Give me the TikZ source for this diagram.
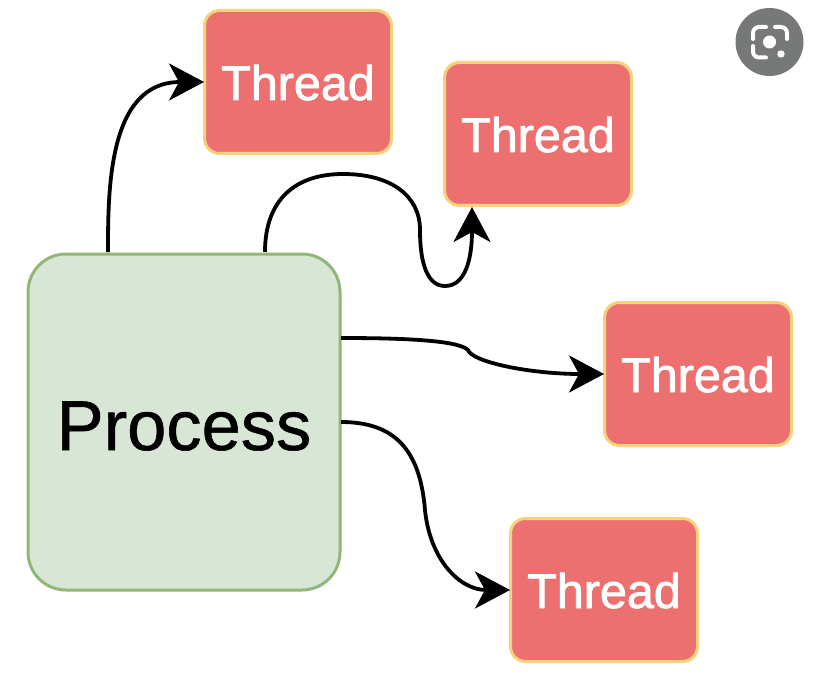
\documentclass[tikz,border=0pt]{standalone}
\usepackage{fontspec}
\setmainfont{Liberation Sans}
\newfontfamily\boldishfont[FakeBold=1.6]{Liberation Sans}
\newfontfamily\procfont[FakeBold=0.8]{Liberation Sans}
\usetikzlibrary{arrows.meta}
\definecolor{threadedge}{HTML}{F7D27C}
\definecolor{threadfill}{HTML}{EC7070}
\definecolor{procedge}{HTML}{93B57A}
\definecolor{procfill}{HTML}{D8E6D6}
\definecolor{lensbg}{HTML}{777878}
\tikzset{
 px/.style={x=1pt,y=-1pt},
 thread/.style={draw=threadedge,fill=threadfill,line width=3pt,rounded corners=15pt,minimum width=187pt,minimum height=143pt,text=white,font=\boldishfont\fontsize{48.5}{49}\selectfont,inner sep=0pt},
 proc/.style={draw=procedge,fill=procfill,line width=3pt,rounded corners=38pt,minimum width=312pt,minimum height=336pt,text=black,font=\procfont\fontsize{70.5}{71}\selectfont,inner sep=0pt},
 conn/.style={draw=black,line width=3.8pt,-{Stealth[length=35pt,width=37pt,inset=10pt]}},
 lens/.style={draw=white,line width=4pt,line cap=round,rounded corners=6pt}
}
\begin{document}
\begin{tikzpicture}[px]
\useasboundingbox (0,0) rectangle (820,674);
\fill[white] (0,0) rectangle (820,674);
\node[proc] (p) at (184,422) {\smash{\raisebox{-28pt}{Process}}};
\node[thread] (t1) at (298,82) {\smash{\raisebox{-18pt}{Thread}}};
\node[thread] (t2) at (538,134) {\smash{\raisebox{-18pt}{Thread}}};
\node[thread] (t3) at (698,374) {\smash{\raisebox{-18pt}{Thread}}};
\node[thread] (t4) at (604,590) {\smash{\raisebox{-18pt}{Thread}}};
\coordinate (s1) at (108,252);
\coordinate (s2) at (265,252);
\coordinate (s3) at (341,338);
\coordinate (s4) at (341,422);
\coordinate (e1) at (204,82);
\coordinate (e2) at (472,207);
\coordinate (e3) at (604,374);
\coordinate (e4) at (510,590);
\draw[conn] (s1) .. controls (108,190) and (108,82) .. (e1);
\draw[conn] (s2) .. controls (265,200) and (295,174) .. (343,174)
 .. controls (390,174) and (420,195) .. (420,230)
 .. controls (420,265) and (428,286) .. (445,286)
 .. controls (465,286) and (472,260) .. (e2);
\draw[conn] (s3) .. controls (400,338) and (458,340) .. (468,350)
 .. controls (472,362) and (530,374) .. (e3);
\draw[conn] (s4) .. controls (395,422) and (420,450) .. (425,510)
 .. controls (430,560) and (460,590) .. (e4);
\fill[lensbg] (769.5,42) circle (34);
\draw[lens] (753,39) -- (753,27) -- (766,27);
\draw[lens] (775,27) -- (787,27) -- (787,39);
\draw[lens] (753,46) -- (753,57.5) -- (766,57.5);
\fill[white] (769.5,42) circle (6.5);
\fill[white] (781,54) circle (3.7);
\end{tikzpicture}
\end{document}
